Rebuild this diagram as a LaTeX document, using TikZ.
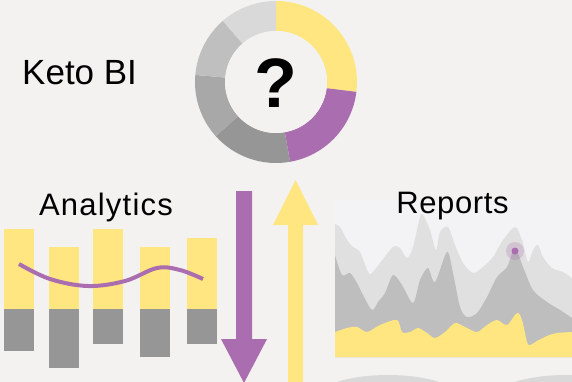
\documentclass[tikz,border=0pt]{standalone}
\usepackage{fontspec}
\setmainfont{Liberation Sans}
\definecolor{bgc}{HTML}{F3F2F1}
\definecolor{chartbg}{HTML}{F3F3F5}
\definecolor{ylw}{HTML}{FFE680}
\definecolor{prp}{HTML}{AA6DAF}
\definecolor{gA}{HTML}{D9D9D9}
\definecolor{gB}{HTML}{BFBFBF}
\definecolor{gC}{HTML}{A8A8A8}
\definecolor{gD}{HTML}{969696}
\definecolor{layL}{HTML}{E0E0E0}
\definecolor{layM}{HTML}{BEBEBE}
\tikzset{
  lbl/.style={inner sep=0pt, text=black},
  ybar/.style={fill=ylw},
  gbar/.style={fill=gD},
}
\newcommand{\donutseg}[3]{%
  \fill[#3] (#1:81pt) arc[start angle=#1, end angle=#2, radius=81pt]
    -- (#2:51pt) arc[start angle=#2, end angle=#1, radius=51pt] -- cycle;}
\begin{document}
\begin{tikzpicture}[x=1pt,y=-1pt]
\useasboundingbox (0,0) rectangle (572,382);
\fill[bgc] (0,0) rectangle (572,382);

% donut
\begin{scope}[shift={(276,82)}]
  \donutseg{-7}{90}{ylw}
  \donutseg{-80}{-7}{prp}
  \donutseg{-138}{-80}{gD}
  \donutseg{175}{222}{gC}
  \donutseg{131}{175}{gB}
  \donutseg{90}{131}{gA}
  \fill[bgc] (0,0) circle (51pt);
\end{scope}
\node[lbl, anchor=base, font=\fontsize{70}{70}\selectfont\bfseries] (q) at (276,108) {?};

\node[lbl, anchor=base west, font=\fontsize{35}{35}\selectfont] (title) at (22,85) {Keto BI};
\node[lbl, anchor=base, font=\fontsize{31}{31}\selectfont\addfontfeatures{LetterSpace=4}] (analytics) at (106,215) {Analytics};

% bars
\fill[ybar] (4,229) rectangle (34,309);   \fill[gbar] (4,309) rectangle (34,351);
\fill[ybar] (49,247) rectangle (79,309);  \fill[gbar] (49,309) rectangle (79,368);
\fill[ybar] (93,229) rectangle (123,309); \fill[gbar] (93,309) rectangle (123,344);
\fill[ybar] (140,247) rectangle (170,309);\fill[gbar] (140,309) rectangle (170,357);
\fill[ybar] (187,238) rectangle (217,309);\fill[gbar] (187,309) rectangle (217,344);
\draw[prp, line width=4pt] plot[smooth, tension=0.6] coordinates
  {(19,264) (50,279) (88,286) (125,281) (157,268) (180,270) (203,279)};

% arrows
\fill[prp] (236,191) -- (252,191) -- (252,339) -- (267,339) -- (244,383)
  -- (221,339) -- (236,339) -- cycle;
\fill[ylw] (288,390) -- (288,225) -- (273,225) -- (295.5,180) -- (318,225)
  -- (303,225) -- (303,390) -- cycle;

% reports chart
\fill[chartbg] (335,200) rectangle (572,357);
\begin{scope}
\clip (335,200) rectangle (572,357);
\fill[layL] (335,357) -- plot[smooth, tension=0.5] coordinates {
 (335,224) (340,227) (347,240) (353,247) (360,252) (368,272) (372,273)
 (380,263) (393,247) (400,248) (407,258) (413,247) (420,217) (423,215)
 (430,230) (436,250) (440,232) (448,227) (455,245) (463,263) (473,273)
 (483,267) (493,257) (503,240) (515,227) (522,240) (528,262) (533,250)
 (538,245) (543,257) (552,268) (563,272) (572,278)} -- (572,357) -- cycle;
\fill[layM] (335,357) -- plot[smooth, tension=0.5] coordinates {
 (335,255) (342,275) (350,273) (357,283) (363,295) (372,310) (378,302)
 (385,293) (393,275) (402,285) (413,303) (420,280) (428,268) (435,282)
 (447,252) (453,273) (460,307) (467,317) (477,313) (487,297) (497,277)
 (507,267) (515,248) (523,267) (533,290) (547,302) (560,310) (572,318)} -- (572,357) -- cycle;
\fill[ylw] (335,357) -- plot[smooth, tension=0.5] coordinates {
 (335,332) (347,328) (357,327) (367,332) (380,325) (397,320) (402,332)
 (410,332) (418,328) (427,333) (435,338) (445,332) (455,323) (465,327)
 (477,332) (487,325) (497,320) (507,325) (517,313) (522,320) (527,342)
 (530,345) (537,341) (547,336) (557,333) (572,332)} -- (572,357) -- cycle;
\end{scope}
\fill[prp, opacity=0.25] (515,251) circle (9pt);
\fill[prp] (515,251) circle (3.5pt);
\node[lbl, anchor=base, font=\fontsize{31}{31}\selectfont\addfontfeatures{LetterSpace=2}] (reports) at (452.5,213) {Reports};

% bottom shapes
\fill[gA] (388,400) ellipse (74pt and 25pt);
\fill[gA] (566,400) ellipse (74pt and 25pt);
\end{tikzpicture}
\end{document}
